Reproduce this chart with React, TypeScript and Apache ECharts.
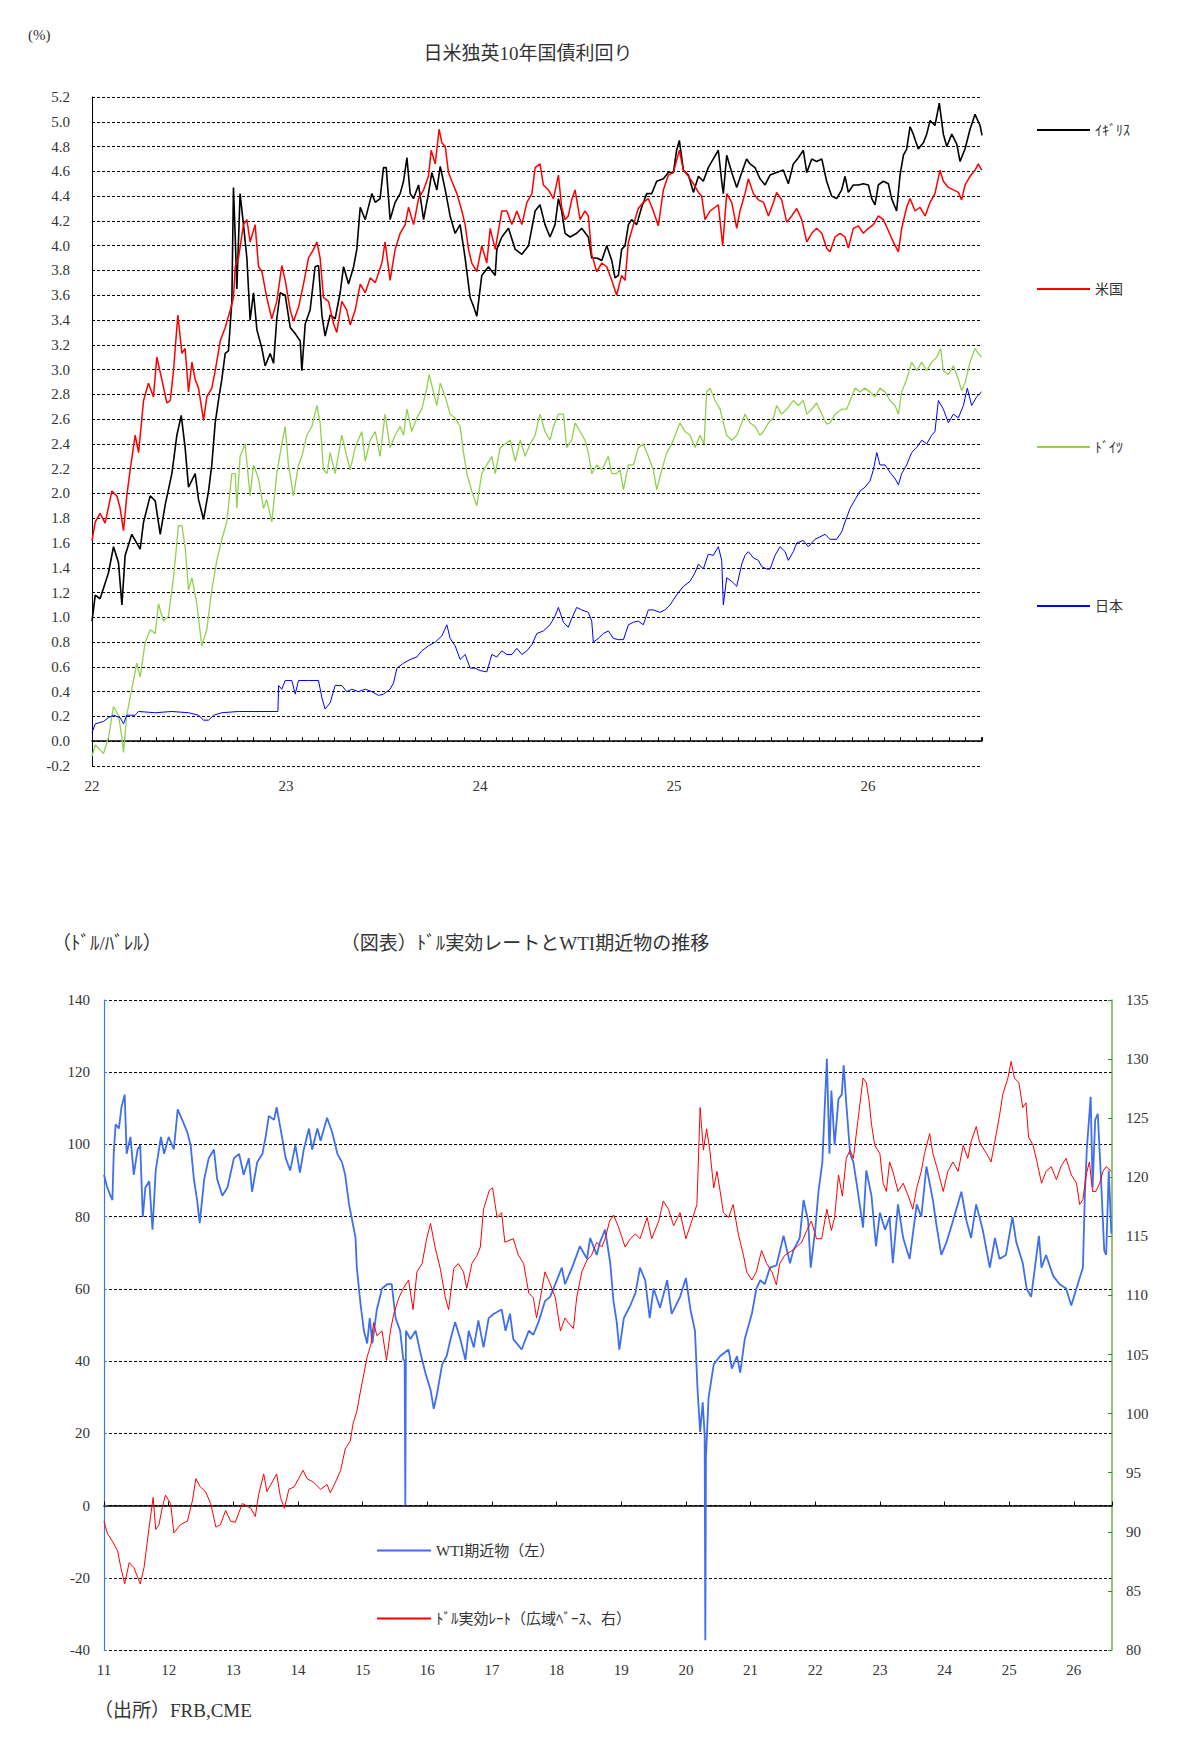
import React, { useEffect, useRef } from "react";
import * as echarts from "echarts";

const FONT = "'Liberation Serif', 'Noto Sans CJK JP', serif";

// ---- Top chart: 10y government bond yields (x = months since Jan 2022) ----
const ukData: [number, number][] = [
  [0,0.97],[0.2,1.18],[0.5,1.15],[1.02,1.36],[1.33,1.57],[1.64,1.44],[1.85,1.10],[2.05,1.50],[2.46,1.67],[2.98,1.55],[3.19,1.77],[3.6,1.98],[3.91,1.94],[4.22,1.67],[4.53,1.91],[4.94,2.16],[5.25,2.47],[5.52,2.63],[5.76,2.37],[5.97,2.05],[6.38,2.16],[6.59,1.95],[6.9,1.79],[7.21,2.02],[7.41,2.23],[7.62,2.57],[7.82,2.75],[8.03,2.92],[8.24,3.13],[8.44,3.15],[8.65,3.55],[8.75,4.47],[8.86,4.07],[8.96,3.65],[9.16,4.42],[9.37,4.17],[9.58,3.90],[9.78,3.40],[9.99,3.62],[10.2,3.32],[10.51,3.17],[10.71,3.03],[11.02,3.13],[11.23,3.05],[11.43,3.41],[11.64,3.62],[11.95,3.60],[12.26,3.34],[12.57,3.29],[12.88,3.23],[12.98,2.99],[13.19,3.37],[13.49,3.48],[13.8,3.83],[14.01,3.84],[14.22,3.44],[14.42,3.27],[14.73,3.44],[15.04,3.41],[15.35,3.62],[15.56,3.83],[15.87,3.69],[16.18,3.83],[16.38,3.97],[16.59,4.31],[16.9,4.21],[17.31,4.42],[17.52,4.35],[17.82,4.38],[18.03,4.63],[18.2,4.63],[18.44,4.21],[18.75,4.35],[19.06,4.42],[19.27,4.52],[19.48,4.71],[19.68,4.42],[19.89,4.38],[20.2,4.49],[20.51,4.21],[20.81,4.42],[21.02,4.59],[21.33,4.45],[21.54,4.64],[21.85,4.45],[22.15,4.24],[22.46,4.10],[22.77,4.17],[23.08,3.90],[23.39,3.58],[23.6,3.51],[23.8,3.43],[24.11,3.76],[24.52,3.83],[24.94,3.76],[25.04,3.97],[25.35,4.07],[25.76,4.14],[26.18,3.97],[26.59,3.93],[27.0,4.00],[27.41,4.28],
  [27.71,4.33],[28.02,4.17],[28.33,4.07],[28.64,4.17],[28.85,4.38],[29.05,4.28],[29.26,4.10],[29.57,4.07],[29.98,4.10],[30.29,4.14],[30.7,4.07],[30.91,3.90],[31.22,3.90],[31.53,3.88],[31.84,4.00],[32.15,3.88],[32.35,3.74],[32.56,3.76],[32.76,3.97],[32.97,4.00],[33.18,4.17],[33.38,4.21],[33.69,4.17],[34.0,4.31],[34.31,4.42],[34.62,4.42],[34.93,4.52],[35.34,4.54],[35.65,4.59],[35.96,4.59],[36.16,4.77],[36.33,4.85],[36.58,4.61],[36.89,4.57],[37.2,4.43],[37.51,4.56],[37.81,4.52],[38.12,4.63],[38.43,4.70],[38.74,4.77],[38.95,4.52],[39.05,4.42],[39.26,4.73],[39.57,4.59],[39.88,4.47],[40.19,4.59],[40.49,4.70],[40.7,4.66],[41.01,4.63],[41.32,4.54],[41.63,4.49],[41.94,4.57],[42.35,4.59],[42.76,4.61],[43.07,4.50],[43.38,4.66],[43.69,4.71],[44.0,4.77],[44.21,4.59],[44.52,4.70],[44.82,4.68],[45.14,4.70],[45.44,4.52],[45.75,4.40],[46.06,4.38],[46.37,4.45],[46.58,4.56],[46.78,4.43],[47.09,4.49],[47.4,4.49],[47.71,4.50],[48.02,4.49],[48.23,4.38],[48.43,4.33],[48.64,4.49],[48.95,4.52],[49.26,4.50],[49.46,4.38],[49.77,4.28],[49.98,4.57],[50.19,4.73],[50.39,4.78],[50.6,4.96],[50.8,4.90],[51.11,4.78],[51.42,4.83],[51.63,4.90],[51.84,5.01],[52.14,4.97],[52.41,5.15],[52.66,4.90],[52.87,4.80],[53.18,4.90],[53.49,4.82],[53.69,4.68],[54.0,4.78],[54.31,4.94],[54.62,5.06],[54.93,4.97],[55.05,4.89],
];

const usData: [number, number][] = [
  [0,1.62],[0.2,1.77],[0.5,1.84],[0.81,1.76],[1.23,2.02],[1.54,1.98],[1.74,1.88],[1.95,1.70],[2.15,1.98],[2.36,2.19],[2.67,2.47],[2.88,2.33],[3.19,2.75],[3.49,2.89],[3.8,2.78],[4.01,3.10],[4.32,2.92],[4.63,2.73],[4.84,2.75],[5.04,2.99],[5.31,3.44],[5.56,3.13],[5.76,3.17],[5.97,2.82],[6.18,3.06],[6.38,2.92],[6.59,2.85],[6.9,2.59],[7.1,2.78],[7.41,2.85],[7.62,2.99],[7.93,3.23],[8.24,3.34],[8.55,3.48],[8.75,3.58],[8.86,3.83],[9.06,3.90],[9.37,4.17],[9.58,4.21],[9.78,4.03],[10.09,4.17],[10.3,3.83],[10.51,3.79],[10.81,3.58],[11.12,3.41],[11.43,3.55],[11.74,3.84],[11.95,3.72],[12.26,3.48],[12.46,3.39],[12.77,3.50],[13.08,3.69],[13.39,3.90],[13.7,3.97],[13.91,4.03],[14.11,3.90],[14.32,3.58],[14.63,3.55],[14.94,3.37],[15.14,3.30],[15.45,3.55],[15.76,3.48],[15.97,3.36],[16.28,3.48],[16.59,3.69],[16.9,3.62],[17.21,3.74],[17.52,3.70],[17.93,3.86],[18.13,4.03],[18.44,3.72],[18.75,3.97],[19.06,4.10],[19.37,4.17],[19.58,4.31],[19.89,4.17],[20.2,4.38],[20.51,4.45],[20.81,4.56],[20.98,4.77],[21.23,4.66],[21.47,4.94],[21.64,4.83],[21.85,4.80],[22.05,4.59],[22.26,4.52],[22.57,4.42],[22.88,4.28],[23.08,4.17],[23.29,3.97],[23.49,3.86],[23.8,3.79],[24.11,4.00],[24.42,3.86],[24.63,4.14],[24.94,3.97],[25.35,4.28],[25.66,4.28],[25.97,4.17],[26.28,4.28],[26.59,4.17],[26.9,4.35],[27.21,4.42],[27.41,4.63],
  [27.71,4.66],[27.92,4.49],[28.23,4.45],[28.54,4.38],[28.85,4.57],[29.05,4.31],[29.26,4.21],[29.46,4.24],[29.67,4.37],[29.88,4.45],[30.19,4.21],[30.49,4.28],[30.7,4.24],[30.91,3.93],[31.22,3.79],[31.53,3.86],[31.84,3.83],[32.15,3.72],[32.45,3.60],[32.76,3.76],[32.97,3.72],[33.18,4.03],[33.49,4.17],[33.79,4.30],[34.1,4.35],[34.41,4.38],[34.72,4.28],[35.03,4.16],[35.34,4.45],[35.65,4.57],[35.96,4.59],[36.33,4.77],[36.58,4.61],[36.89,4.56],[37.2,4.50],[37.51,4.43],[37.71,4.40],[37.92,4.21],[38.23,4.28],[38.54,4.31],[38.74,4.33],[39.01,4.00],[39.26,4.42],[39.57,4.35],[39.88,4.14],[40.08,4.28],[40.39,4.42],[40.6,4.54],[40.91,4.42],[41.22,4.37],[41.53,4.35],[41.84,4.24],[42.15,4.35],[42.35,4.43],[42.66,4.37],[42.97,4.19],[43.28,4.24],[43.59,4.30],[43.9,4.21],[44.21,4.03],[44.52,4.10],[44.82,4.14],[45.14,4.10],[45.44,3.98],[45.65,3.95],[45.96,4.07],[46.27,4.10],[46.58,4.07],[46.78,3.98],[47.09,4.14],[47.4,4.16],[47.71,4.10],[48.02,4.14],[48.33,4.17],[48.64,4.24],[48.95,4.21],[49.26,4.12],[49.56,4.03],[49.88,3.95],[50.08,4.14],[50.39,4.31],[50.6,4.38],[50.91,4.28],[51.22,4.31],[51.53,4.24],[51.84,4.35],[52.14,4.42],[52.45,4.61],[52.66,4.52],[52.97,4.47],[53.28,4.45],[53.59,4.43],[53.79,4.37],[54.0,4.49],[54.31,4.56],[54.62,4.61],[54.82,4.66],[55.03,4.61],
];

const deData: [number, number][] = [
  [0,-0.12],[0.2,-0.03],[0.5,-0.07],[0.71,-0.10],[1.02,0.03],[1.33,0.28],[1.64,0.21],[1.85,0.03],[1.95,-0.09],[2.15,0.21],[2.46,0.42],[2.77,0.63],[2.98,0.52],[3.29,0.80],[3.6,0.90],[3.91,0.87],[4.11,1.11],[4.42,0.97],[4.73,1.01],[5.04,1.32],[5.35,1.74],[5.56,1.74],[5.76,1.57],[5.97,1.22],[6.18,1.32],[6.48,1.11],[6.79,0.77],[7.1,0.90],[7.41,1.22],[7.72,1.46],[8.03,1.63],[8.34,1.77],[8.65,2.16],[8.86,2.16],[8.96,1.88],[9.16,2.30],[9.47,2.40],[9.78,1.98],[9.99,2.23],[10.3,2.12],[10.61,1.88],[10.81,1.95],[11.12,1.77],[11.43,2.16],[11.74,2.40],[11.95,2.54],[12.15,2.23],[12.46,1.98],[12.77,2.23],[12.98,2.30],[13.29,2.47],[13.6,2.54],[13.91,2.71],[14.11,2.57],[14.32,2.19],[14.53,2.16],[14.73,2.33],[15.04,2.16],[15.45,2.47],[15.76,2.30],[15.97,2.19],[16.28,2.37],[16.69,2.50],[16.9,2.26],[17.21,2.43],[17.52,2.50],[17.82,2.30],[18.13,2.64],[18.44,2.37],[18.75,2.47],[19.06,2.54],[19.27,2.47],[19.48,2.68],[19.78,2.50],[20.09,2.61],[20.4,2.68],[20.71,2.85],[20.85,2.96],[21.12,2.82],[21.33,2.71],[21.54,2.89],[21.85,2.78],[22.15,2.64],[22.46,2.61],[22.77,2.54],[22.98,2.33],[23.19,2.16],[23.49,2.02],[23.8,1.90],[24.11,2.16],[24.42,2.23],[24.73,2.30],[24.94,2.16],[25.25,2.37],[25.56,2.40],[25.87,2.43],[26.18,2.26],[26.49,2.43],[26.79,2.30],[27.1,2.40],[27.41,2.47],
  [27.71,2.64],[28.02,2.50],[28.33,2.43],[28.54,2.54],[28.85,2.64],[29.16,2.64],[29.36,2.37],[29.67,2.43],[29.88,2.57],[30.19,2.50],[30.49,2.43],[30.7,2.33],[30.91,2.16],[31.22,2.23],[31.53,2.19],[31.94,2.30],[32.15,2.16],[32.45,2.16],[32.66,2.19],[32.87,2.03],[33.18,2.23],[33.49,2.23],[33.79,2.37],[34.1,2.40],[34.41,2.30],[34.72,2.19],[34.93,2.03],[35.24,2.19],[35.55,2.33],[35.86,2.40],[36.16,2.50],[36.37,2.57],[36.68,2.50],[36.99,2.47],[37.3,2.37],[37.61,2.47],[37.86,2.40],[38.02,2.82],[38.23,2.85],[38.54,2.75],[38.85,2.68],[39.05,2.57],[39.26,2.47],[39.57,2.43],[39.88,2.47],[40.19,2.57],[40.39,2.64],[40.7,2.57],[41.01,2.54],[41.32,2.47],[41.53,2.50],[41.84,2.57],[42.15,2.61],[42.35,2.71],[42.66,2.64],[42.97,2.68],[43.38,2.75],[43.69,2.71],[44.0,2.75],[44.21,2.64],[44.52,2.68],[44.82,2.73],[45.14,2.64],[45.44,2.56],[45.65,2.57],[45.96,2.64],[46.37,2.68],[46.68,2.68],[46.99,2.78],[47.2,2.85],[47.51,2.82],[47.81,2.85],[48.12,2.82],[48.43,2.78],[48.74,2.85],[49.05,2.82],[49.36,2.75],[49.67,2.71],[49.88,2.64],[50.08,2.82],[50.39,2.92],[50.7,3.06],[51.01,2.99],[51.32,3.06],[51.63,2.99],[51.94,3.06],[52.25,3.10],[52.49,3.17],[52.66,2.99],[52.97,2.96],[53.28,3.03],[53.59,2.92],[53.79,2.83],[54.0,2.89],[54.31,3.06],[54.62,3.17],[54.82,3.13],[55.03,3.10],
];

const jpData: [number, number][] = [
  [0,0.07],[0.2,0.14],[0.71,0.16],[1.02,0.19],[1.33,0.21],[1.74,0.19],[1.95,0.14],[2.15,0.21],[2.67,0.21],[2.88,0.24],[3.91,0.23],[4.94,0.24],[5.97,0.23],[6.59,0.21],[6.9,0.17],[7.21,0.17],[7.52,0.21],[8.03,0.23],[9.06,0.24],[10.09,0.24],[11.5,0.24],[11.54,0.45],[11.74,0.42],[11.95,0.49],[12.36,0.49],[12.57,0.38],[12.77,0.49],[13.39,0.49],[14.01,0.49],[14.22,0.35],[14.42,0.26],[14.73,0.31],[15.04,0.45],[15.45,0.45],[15.76,0.40],[16.07,0.42],[16.48,0.40],[16.9,0.42],[17.31,0.40],[17.72,0.37],[18.03,0.38],[18.44,0.42],[18.65,0.47],[18.86,0.59],[19.27,0.63],[19.68,0.66],[20.09,0.68],[20.4,0.73],[20.81,0.77],[21.23,0.80],[21.64,0.85],[21.95,0.94],[22.15,0.83],[22.46,0.77],[22.77,0.66],[23.08,0.70],[23.39,0.59],[23.7,0.59],[24.01,0.57],[24.42,0.56],[24.73,0.70],[25.04,0.68],[25.35,0.73],[25.66,0.70],[25.97,0.70],[26.28,0.75],[26.59,0.70],[26.9,0.73],[27.21,0.78],[27.52,0.87],
  [27.92,0.89],[28.33,0.94],[28.64,1.01],[28.85,1.08],[29.16,0.96],[29.46,0.92],[29.67,0.99],[29.98,1.08],[30.29,1.06],[30.7,1.04],[30.91,0.97],[31.01,0.80],[31.32,0.83],[31.63,0.87],[31.94,0.89],[32.25,0.83],[32.56,0.82],[32.87,0.82],[33.18,0.94],[33.49,0.96],[33.79,0.97],[34.1,0.94],[34.41,1.06],[34.72,1.06],[35.13,1.04],[35.44,1.06],[35.75,1.10],[36.16,1.18],[36.58,1.25],[36.99,1.29],[37.3,1.36],[37.51,1.43],[37.81,1.39],[38.12,1.51],[38.43,1.50],[38.74,1.57],[38.95,1.46],[39.05,1.10],[39.26,1.32],[39.57,1.29],[39.88,1.25],[40.19,1.43],[40.39,1.50],[40.6,1.53],[40.91,1.48],[41.22,1.46],[41.42,1.41],[41.73,1.39],[41.94,1.39],[42.25,1.50],[42.56,1.57],[42.87,1.53],[43.07,1.46],[43.38,1.53],[43.59,1.60],[44.0,1.62],[44.31,1.57],[44.72,1.63],[45.03,1.65],[45.34,1.67],[45.65,1.63],[46.06,1.63],[46.37,1.69],[46.58,1.77],[46.89,1.88],[47.2,1.95],[47.51,2.02],[47.81,2.05],[48.12,2.10],[48.33,2.19],[48.54,2.33],[48.74,2.23],[49.05,2.23],[49.36,2.17],[49.67,2.12],[49.88,2.07],[50.08,2.16],[50.39,2.23],[50.7,2.33],[51.01,2.37],[51.32,2.43],[51.63,2.40],[51.94,2.47],[52.14,2.50],[52.35,2.75],[52.66,2.68],[52.97,2.57],[53.28,2.64],[53.59,2.61],[53.9,2.71],[54.14,2.85],[54.41,2.71],[54.72,2.78],[55.03,2.82],
];

// ---- Bottom chart: WTI (left, $/bbl) and broad dollar index (right) ; x = year ----
const wtiData: [number, number][] = [
  [2011.0,91.6],[2011.05,88.1],[2011.1,85.8],[2011.13,84.6],[2011.15,97.4],[2011.18,105.6],[2011.23,104.4],[2011.27,110.3],[2011.32,113.8],[2011.35,97.4],[2011.41,102.1],[2011.46,91.6],[2011.52,98.6],[2011.56,99.8],[2011.6,79.9],[2011.64,88.1],[2011.7,89.8],[2011.75,76.4],[2011.8,92.8],[2011.88,102.1],[2011.93,97.4],[2012.0,102.1],[2012.08,98.6],[2012.14,109.7],[2012.21,106.8],[2012.29,103.3],[2012.34,99.8],[2012.39,90.4],[2012.44,84.6],[2012.48,78.2],[2012.55,90.4],[2012.62,96.2],[2012.7,98.6],[2012.75,90.4],[2012.83,85.8],[2012.91,88.1],[2013.01,96.2],[2013.09,97.4],[2013.16,91.6],[2013.24,96.2],[2013.29,86.9],[2013.37,95.1],[2013.45,97.4],[2013.5,102.1],[2013.55,107.9],[2013.63,106.8],[2013.67,110.3],[2013.73,104.4],[2013.81,96.2],[2013.88,92.8],[2013.96,99.8],[2014.03,92.2],[2014.09,98.6],[2014.17,104.4],[2014.22,98.6],[2014.3,104.4],[2014.35,101.0],[2014.45,107.4],[2014.53,103.3],[2014.61,97.4],[2014.68,95.1],[2014.73,91.6],[2014.79,83.4],[2014.84,78.8],[2014.89,74.2],[2014.91,65.9],[2014.97,55.4],[2015.02,48.4],[2015.07,44.9],[2015.11,51.9],[2015.15,44.9],[2015.22,54.3],[2015.3,60.1],[2015.38,61.3],[2015.45,61.3],[2015.51,51.9],[2015.58,48.4],[2015.63,40.3],[2015.65,40.3],[2015.66,0],[2015.67,48.4],[2015.74,46.1],[2015.82,48.4],[2015.89,42.6],[2015.97,36.8],[2016.05,32.1],[2016.1,26.8],[2016.15,30.9],[2016.23,39.1],[2016.3,41.4],[2016.36,46.1],[2016.43,50.8],[2016.51,46.1],[2016.59,40.3],[2016.64,48.4],[2016.72,43.8],[2016.79,51.3],[2016.87,43.8],[2016.95,51.9],[2017.03,53.1],[2017.15,54.3],[2017.21,48.4],[2017.28,53.1],[2017.33,46.1],[2017.46,43.2],[2017.57,48.4],[2017.64,47.3],[2017.72,50.8],[2017.82,56.6],[2017.9,57.8],[2017.98,61.3],[2018.08,65.9],[2018.13,61.3],[2018.24,65.9],[2018.36,71.8],[2018.47,68.3],[2018.52,74.1],[2018.62,69.4],[2018.67,72.9],[2018.75,76.4],
  [2018.83,67.1],[2018.88,56.6],[2018.93,50.8],[2018.97,43.2],[2019.04,51.9],[2019.14,55.4],[2019.22,58.9],[2019.29,65.9],[2019.37,62.4],[2019.44,51.9],[2019.5,60.1],[2019.6,54.8],[2019.71,62.4],[2019.78,53.1],[2019.91,57.8],[2020.0,63.0],[2020.07,54.3],[2020.14,48.4],[2020.18,32.1],[2020.22,20.4],[2020.26,28.6],[2020.29,19.3],[2020.3,-37.3],[2020.31,13.4],[2020.35,29.8],[2020.43,39.1],[2020.53,41.4],[2020.66,43.2],[2020.71,37.9],[2020.79,41.4],[2020.84,36.8],[2020.91,46.1],[2021.02,53.1],[2021.09,60.1],[2021.15,62.4],[2021.22,61.3],[2021.3,65.9],[2021.4,66.5],[2021.51,74.7],[2021.61,67.1],[2021.66,70.6],[2021.76,74.1],[2021.82,84.6],[2021.89,78.8],[2021.93,65.9],[2022.0,76.4],[2022.05,86.9],[2022.11,95.1],[2022.18,123.7],[2022.22,97.4],[2022.25,114.9],[2022.3,99.8],[2022.36,112.6],[2022.41,113.8],[2022.44,121.9],[2022.48,111.4],[2022.54,97.4],[2022.59,95.1],[2022.64,89.3],[2022.74,77.0],[2022.79,92.8],[2022.87,85.8],[2022.94,71.8],[2023.0,81.1],[2023.08,76.4],[2023.15,79.9],[2023.2,67.1],[2023.28,83.4],[2023.36,74.1],[2023.46,68.3],[2023.57,83.4],[2023.64,79.9],[2023.72,93.9],[2023.82,84.6],[2023.87,78.2],[2023.95,69.4],[2024.03,72.9],[2024.13,78.8],[2024.26,86.9],[2024.34,78.8],[2024.41,74.1],[2024.49,83.4],[2024.59,76.4],[2024.7,65.9],[2024.78,74.1],[2024.85,68.3],[2024.95,69.4],[2025.05,79.9],[2025.11,72.9],[2025.21,67.1],[2025.27,60.1],[2025.34,57.8],[2025.46,74.7],[2025.5,65.9],[2025.57,69.4],[2025.68,63.6],[2025.78,61.3],[2025.88,60.1],[2025.96,55.4],[2026.04,60.1],[2026.14,65.9],[2026.17,85.8],[2026.2,98.6],[2026.26,113.2],[2026.29,88.1],[2026.33,106.8],[2026.37,108.5],[2026.42,90.4],[2026.47,70.6],[2026.5,69.4],[2026.54,92.8],[2026.58,75.3],
];

const usdData: [number, number][] = [
  [2011.0,90.9],[2011.05,89.9],[2011.13,89.2],[2011.21,88.4],[2011.26,87.0],[2011.32,85.6],[2011.39,87.4],[2011.46,87.0],[2011.56,85.6],[2011.62,87.0],[2011.67,89.2],[2011.72,91.3],[2011.76,92.9],[2011.8,90.2],[2011.85,90.6],[2011.9,92.0],[2011.95,93.1],[2012.03,92.4],[2012.08,89.9],[2012.18,90.6],[2012.29,90.9],[2012.37,92.7],[2012.42,94.5],[2012.49,93.8],[2012.57,93.4],[2012.65,92.4],[2012.73,90.4],[2012.8,90.6],[2012.88,91.8],[2012.96,90.9],[2013.03,90.8],[2013.14,92.4],[2013.27,92.0],[2013.34,91.3],[2013.39,93.1],[2013.47,94.9],[2013.52,93.4],[2013.6,94.2],[2013.67,94.9],[2013.73,92.9],[2013.79,92.0],[2013.86,93.6],[2013.94,93.8],[2014.01,94.5],[2014.08,95.2],[2014.14,94.5],[2014.24,94.2],[2014.35,93.6],[2014.45,94.0],[2014.5,93.3],[2014.58,94.2],[2014.66,95.2],[2014.73,97.0],[2014.81,97.7],[2014.85,99.1],[2014.91,100.2],[2014.97,102.0],[2015.02,103.4],[2015.07,104.8],[2015.13,105.9],[2015.17,107.7],[2015.22,106.6],[2015.3,107.0],[2015.37,104.5],[2015.43,107.0],[2015.48,108.4],[2015.56,109.8],[2015.63,110.6],[2015.71,111.3],[2015.78,108.8],[2015.84,112.0],[2015.92,112.7],[2015.99,114.8],[2016.05,116.1],[2016.12,114.1],[2016.2,112.3],[2016.28,109.8],[2016.33,108.8],[2016.41,112.3],[2016.48,112.7],[2016.56,112.0],[2016.61,110.6],[2016.69,112.7],[2016.77,113.4],[2016.82,114.1],[2016.87,117.3],[2016.96,118.9],[2017.01,119.1],[2017.08,116.6],[2017.15,117.0],[2017.2,114.5],[2017.33,114.8],[2017.41,113.4],[2017.49,112.7],[2017.57,110.2],[2017.64,109.8],[2017.69,108.1],[2017.75,109.8],[2017.82,112.0],[2017.9,111.0],[2017.98,109.8],[2018.06,107.0],[2018.13,108.1],[2018.18,107.7],[2018.26,107.2],[2018.31,109.8],[2018.39,112.0],[2018.47,113.0],[2018.54,113.4],[2018.62,114.5],[2018.7,114.1],[2018.75,114.8],[2018.82,116.3],
  [2018.88,116.8],[2018.95,115.9],[2019.06,114.1],[2019.14,114.8],[2019.22,115.2],[2019.29,114.8],[2019.4,116.6],[2019.47,114.8],[2019.58,116.3],[2019.65,118.0],[2019.73,117.3],[2019.81,115.9],[2019.91,117.0],[2020.0,114.8],[2020.09,116.3],[2020.17,117.7],[2020.22,125.9],[2020.27,122.3],[2020.32,124.1],[2020.37,122.3],[2020.43,119.1],[2020.48,120.5],[2020.53,118.8],[2020.58,117.0],[2020.66,116.6],[2020.73,117.7],[2020.81,115.2],[2020.89,113.4],[2020.94,112.0],[2021.02,111.3],[2021.09,112.0],[2021.17,113.8],[2021.25,112.7],[2021.33,112.0],[2021.4,110.9],[2021.45,112.7],[2021.53,113.4],[2021.64,113.8],[2021.71,114.1],[2021.79,114.5],[2021.87,115.5],[2021.94,116.3],[2022.02,114.8],[2022.1,114.8],[2022.18,117.3],[2022.25,115.5],[2022.3,116.6],[2022.36,120.2],[2022.42,118.4],[2022.48,121.6],[2022.54,122.3],[2022.59,121.6],[2022.66,124.8],[2022.74,128.4],[2022.79,128.0],[2022.83,126.6],[2022.87,124.5],[2022.92,122.7],[2023.0,122.0],[2023.05,119.5],[2023.1,118.8],[2023.15,121.3],[2023.2,120.5],[2023.28,118.8],[2023.36,119.5],[2023.44,118.4],[2023.51,117.3],[2023.57,119.1],[2023.64,120.5],[2023.69,122.0],[2023.77,123.7],[2023.82,122.0],[2023.9,120.5],[2023.98,118.8],[2024.05,120.5],[2024.13,121.3],[2024.21,120.5],[2024.29,122.7],[2024.36,121.6],[2024.41,123.0],[2024.49,124.3],[2024.54,123.0],[2024.65,122.0],[2024.72,121.3],[2024.8,123.7],[2024.85,125.2],[2024.9,127.0],[2024.98,128.4],[2025.03,129.8],[2025.08,128.4],[2025.15,128.0],[2025.21,125.9],[2025.26,126.3],[2025.3,123.4],[2025.37,122.7],[2025.43,121.3],[2025.5,119.5],[2025.57,120.5],[2025.65,120.9],[2025.73,119.8],[2025.8,120.9],[2025.88,121.6],[2025.96,120.2],[2026.04,119.5],[2026.09,117.7],[2026.14,118.1],[2026.19,120.2],[2026.24,121.3],[2026.29,118.8],[2026.34,118.8],[2026.4,119.5],[2026.45,120.5],[2026.5,120.9],[2026.58,120.5],
];

const TOP_X_MAX = 55.05; // months since Jan 2022 (≈ Aug 2026)
const BOT_X_MIN = 2011;
const BOT_X_MAX = 2026.59;

const topNames = ["ｲｷﾞﾘｽ", "米国", "ﾄﾞｲﾂ", "日本"];
const topColors = ["#000000", "#ff0000", "#92d050", "#0000ff"];
const botNames = ["WTI期近物（左）", "ﾄﾞﾙ実効ﾚｰﾄ（広域ﾍﾞｰｽ、右）"];
const botColors = ["#3f6fef", "#ff0000"];

const dashed = { type: [3, 2] as any, color: "#000", width: 1 };
const labelText = { fontFamily: FONT, color: "#333", fontSize: 15 };

export default function App() {
  const ref = useRef<HTMLDivElement>(null);

  useEffect(() => {
    document.body.style.margin = "0";
    if (!ref.current) return;
    const chart = echarts.init(ref.current, undefined, { renderer: "svg" });

    const legendCommon = {
      orient: "vertical",
      icon: "rect",
      itemHeight: 2,
      padding: 0,
      selectedMode: false,
      textStyle: { fontFamily: FONT, fontSize: 14, color: "#333" },
    };
    const topLegendY = [131, 290, 448, 607];
    const botLegendY = [1551, 1619];

    const option: any = {
      animation: false,
      backgroundColor: "#fff",
      grid: [
        { left: 92, top: 97, width: 890, height: 669 },
        { left: 104, top: 1000, width: 1008, height: 650 },
      ],
      xAxis: [
        {
          gridIndex: 0, type: "value", min: 0, max: TOP_X_MAX, interval: 1,
          axisLine: { onZero: true, onZeroAxisIndex: 0, lineStyle: { color: "#000", width: 1.5 } },
          axisTick: { show: true, inside: true, length: 4, lineStyle: { color: "#000" } },
          axisLabel: { show: false }, splitLine: { show: false },
        },
        {
          gridIndex: 0, type: "value", min: 0, max: TOP_X_MAX, interval: 12, position: "bottom",
          axisLine: { show: false, onZero: false }, axisTick: { show: false }, splitLine: { show: false },
          axisLabel: {
            ...labelText, margin: 12,
            formatter: (v: number) => (Math.abs(v % 12) < 1e-6 ? String(22 + Math.round(v / 12)) : ""),
          },
        },
        {
          gridIndex: 1, type: "value", min: BOT_X_MIN, max: BOT_X_MAX, interval: 1,
          axisLine: { onZero: true, onZeroAxisIndex: 1, lineStyle: { color: "#000", width: 1.5 } },
          axisTick: { show: true, inside: true, length: 4, lineStyle: { color: "#000" } },
          axisLabel: { show: false }, splitLine: { show: false },
        },
        {
          gridIndex: 1, type: "value", min: BOT_X_MIN, max: BOT_X_MAX, interval: 1, position: "bottom",
          axisLine: { show: false, onZero: false }, axisTick: { show: false }, splitLine: { show: false },
          axisLabel: {
            ...labelText, margin: 12,
            formatter: (v: number) => (Math.abs(v - Math.round(v)) < 1e-6 ? String(Math.round(v) - 2000) : ""),
          },
        },
      ],
      yAxis: [
        {
          gridIndex: 0, type: "value", min: -0.2, max: 5.2, interval: 0.2,
          axisLine: { show: true, lineStyle: { color: "#000", width: 1 } },
          axisTick: { show: false },
          axisLabel: { ...labelText, margin: 22, formatter: (v: number) => v.toFixed(1) },
          splitLine: { show: true, lineStyle: dashed },
        },
        {
          gridIndex: 1, type: "value", min: -40, max: 140, interval: 20, position: "left",
          axisLine: { show: true, lineStyle: { color: "#3c78d8", width: 1.2 } },
          axisTick: { show: true, inside: true, length: 3, lineStyle: { color: "#3c78d8" } },
          axisLabel: { ...labelText, margin: 14 },
          splitLine: { show: true, lineStyle: dashed },
        },
        {
          gridIndex: 1, type: "value", min: 80, max: 135, interval: 5, position: "right",
          axisLine: { show: true, lineStyle: { color: "#70ad47", width: 1.5 } },
          axisTick: { show: true, inside: true, length: 4, lineStyle: { color: "#2e8b2e" } },
          axisLabel: { ...labelText, margin: 14 },
          splitLine: { show: false },
        },
      ],
      legend: [
        ...topNames.map((n, i) => ({
          ...legendCommon, data: [n], left: 1037, top: topLegendY[i] - 8, itemWidth: 53,
        })),
        ...botNames.map((n, i) => ({
          ...legendCommon, data: [n], left: 377, top: botLegendY[i] - 8, itemWidth: 54,
          textStyle: { fontFamily: FONT, fontSize: 15, color: "#333" },
        })),
      ],
      graphic: [
        { type: "text", x: 28, y: 35, style: { text: "(%)", font: `15px ${FONT}`, fill: "#333", verticalAlign: "middle" } },
        { type: "text", x: 528, y: 53, style: { text: "日米独英10年国債利回り", font: `19px ${FONT}`, fill: "#333", align: "center", verticalAlign: "middle" } },
        { type: "text", x: 52, y: 943, style: { text: "（ﾄﾞﾙ/ﾊﾞﾚﾙ）", font: `19px ${FONT}`, fill: "#333", verticalAlign: "middle" } },
        { type: "text", x: 525, y: 943, style: { text: "（図表）ﾄﾞﾙ実効レートとWTI期近物の推移", font: `19px ${FONT}`, fill: "#333", align: "center", verticalAlign: "middle" } },
        { type: "text", x: 94, y: 1710, style: { text: "（出所）FRB,CME", font: `19px ${FONT}`, fill: "#333", verticalAlign: "middle" } },
      ],
      series: [
        { name: topNames[0], data: ukData, width: 1.6 },
        { name: topNames[1], data: usData, width: 1.5 },
        { name: topNames[2], data: deData, width: 1.3 },
        { name: topNames[3], data: jpData, width: 1 },
      ].map((s, i) => ({
        type: "line", name: s.name, data: s.data, xAxisIndex: 0, yAxisIndex: 0,
        symbol: "none", lineStyle: { color: topColors[i], width: s.width }, itemStyle: { color: topColors[i] },
      })).concat([
        {
          type: "line", name: botNames[0], data: wtiData, xAxisIndex: 2, yAxisIndex: 1,
          symbol: "none", lineStyle: { color: botColors[0], width: 1.8 }, itemStyle: { color: botColors[0] },
        },
        {
          type: "line", name: botNames[1], data: usdData, xAxisIndex: 2, yAxisIndex: 2,
          symbol: "none", lineStyle: { color: botColors[1], width: 1 }, itemStyle: { color: botColors[1] },
        },
      ] as any),
    };

    chart.setOption(option);
    return () => chart.dispose();
  }, []);

  return <div ref={ref} style={{ width: 1183, height: 1755 }} />;
}
